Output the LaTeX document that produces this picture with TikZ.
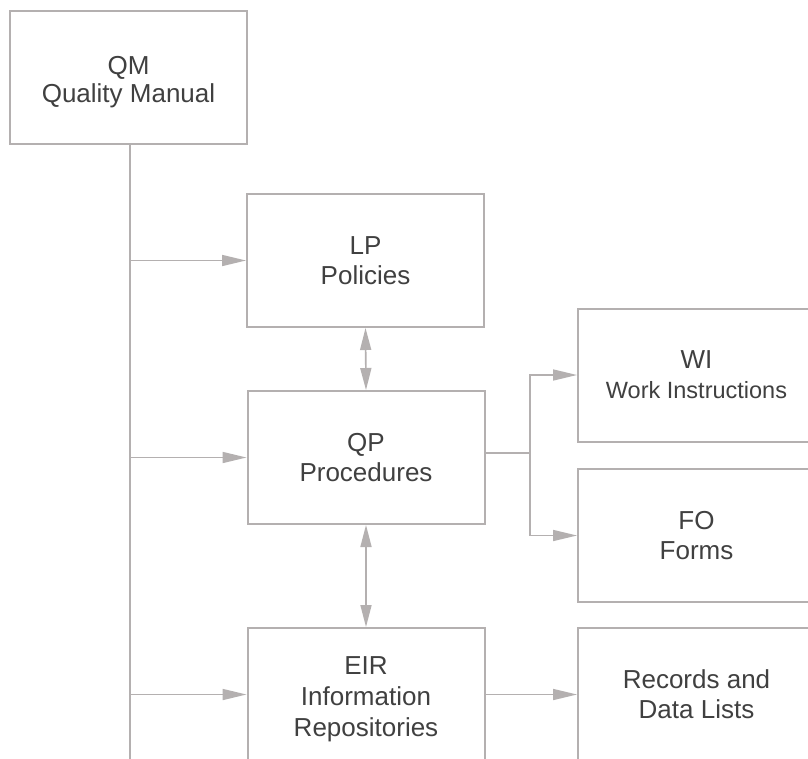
\documentclass[tikz,border=0pt]{standalone}
\usepackage{fontspec}
\setmainfont{Liberation Sans}
\usetikzlibrary{arrows.meta}
\definecolor{linecol}{RGB}{180,176,176}
\definecolor{txtcol}{RGB}{64,64,64}
\tikzset{
  box/.style={draw=linecol, line width=2pt, fill=white, minimum width=237pt, minimum height=133pt, inner sep=0pt, align=center, text=txtcol, font=\fontsize{26}{30}\selectfont},
  conn/.style={draw=linecol, line width=1.6pt},
  arr/.style={conn, -{Triangle[length=24pt,width=11pt,fill=linecol]}},
  darr/.style={conn, {Triangle[length=22pt,width=11pt,fill=linecol]}-{Triangle[length=22pt,width=11pt,fill=linecol]}}
}
\begin{document}
\begin{tikzpicture}[x=1pt,y=-1pt]
\useasboundingbox (0,0) rectangle (808,758);
\clip (0,0) rectangle (808,758);
\fill[white] (0,0) rectangle (808,758);
\node[box, font=\fontsize{26}{28}\selectfont] (QM) at (128.5,77.5) {\rule{0pt}{27pt}QM\\Quality Manual};
\node[box] (LP) at (365.5,260.5) {LP\\Policies};
\node[box] (QP) at (366,457.5) {QP\\Procedures};
\node[box, font=\fontsize{26}{31}\selectfont] (EIR) at (366,694.5) {\rule{0pt}{27pt}EIR\\Information\\Repositories};
\node[box] (WI) at (696.5,375) {WI\\{\fontsize{23.5}{27}\selectfont Work Instructions}};
\node[box] (FO) at (696.5,535.5) {FO\\Forms};
\node[box] (RD) at (696.5,694.5) {Records and\\Data Lists};
\coordinate (bot) at (130,770);
\coordinate (spine) at (130,144);
\coordinate (j) at (530,453);
\draw[conn] (spine) -- (bot);
\draw[arr] (spine |- LP.west) -- (LP.west);
\draw[arr] (spine |- QP.west) -- (QP.west);
\draw[arr] (spine |- EIR.west) -- (EIR.west);
\draw[darr] (LP.south) -- (QP.north);
\draw[darr] (QP.south) -- (EIR.north);
\draw[conn] (QP.east |- j) -- (j);
\draw[arr] (j) |- (WI.west);
\draw[arr] (j) |- (FO.west);
\draw[arr] (EIR.east) -- (RD.west);
\end{tikzpicture}
\end{document}
